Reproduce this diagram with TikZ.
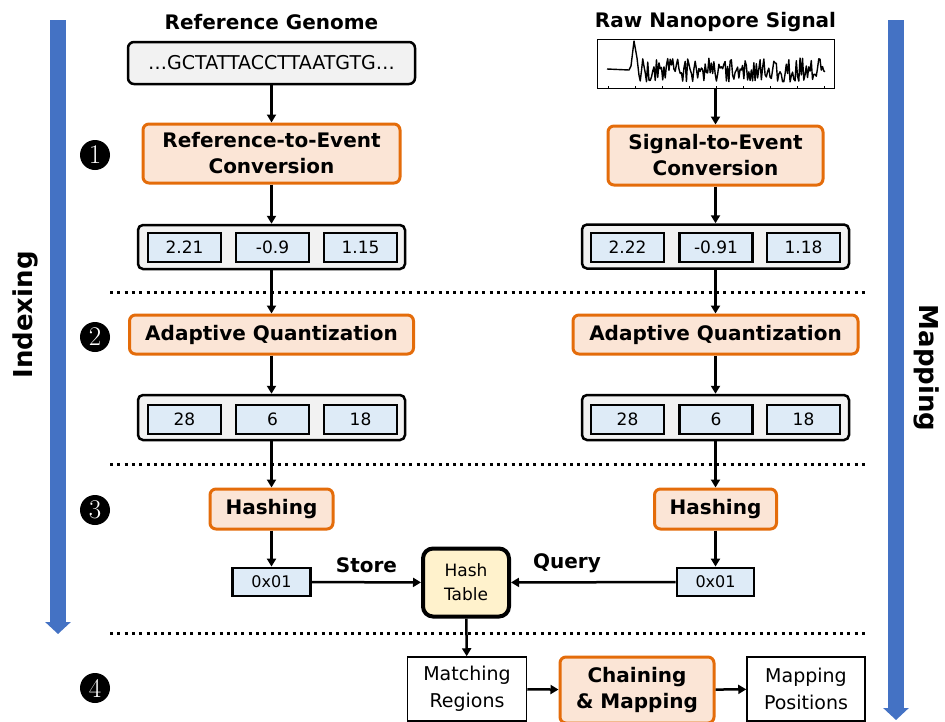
\documentclass[tikz,border=0pt]{standalone}
\usepackage{fontspec}
\usepackage{tikz}
\usetikzlibrary{arrows.meta}
\newfontfamily\labelfont{DejaVu Sans}

\definecolor{stageorange}{HTML}{E46C0A}
\definecolor{stagefill}{HTML}{FBE5D6}
\definecolor{flowblue}{HTML}{4472C4}
\definecolor{seqgray}{HTML}{F2F2F2}
\definecolor{valblue}{HTML}{DEEBF7}
\definecolor{tabyellow}{HTML}{FFF2CC}

\tikzset{
  stage/.style={draw=stageorange, fill=stagefill, line width=3pt, rounded corners=6pt, align=center, inner sep=0pt, font=\labelfont\bfseries\fontsize{20}{26}\selectfont},
  vector/.style={draw, fill=seqgray, line width=2.5pt, rounded corners=5pt, minimum width=267pt, minimum height=44pt},
  cell/.style={draw, fill=valblue, line width=2.8pt, minimum width=73pt, minimum height=29pt, inner sep=0pt, font=\labelfont\fontsize{17}{20}\selectfont},
  plain/.style={draw, fill=white, line width=1.5pt, align=center, inner sep=0pt, font=\labelfont\fontsize{19}{27}\selectfont},
  title/.style={font=\labelfont\bfseries\fontsize{20}{24}\selectfont},
  marker/.style={circle, fill=black, text=white, minimum size=30pt, inner sep=0pt, font=\fontsize{27}{27}\selectfont},
  flow/.style={line width=2.5pt, -{Triangle[length=8pt,width=9pt]}},
  progress/.style={flowblue, line width=16pt, -{Triangle[length=12pt,width=25pt]}},
  sep/.style={line width=3pt, dash pattern=on 3pt off 4.3pt},
  phase/.style={font=\labelfont\bfseries\fontsize{26}{30}\selectfont}
}

\begin{document}
\begin{tikzpicture}[x=1pt, y=-1pt]
\useasboundingbox (0,0) rectangle (945,721);

% phase arrows
\coordinate (itop) at (58,20);
\coordinate (ibot) at (58,634);
\coordinate (mtop) at (896,20);
\coordinate (mbot) at (896,720);
\draw[progress] (itop) -- (ibot);
\draw[progress] (mtop) -- (mbot);
\node[phase, rotate=90] (idx) at (25,315) {Indexing};
\node[phase, rotate=-90] (mapl) at (927,368) {Mapping};

% step markers
\node[marker] (m1) at (95,155) {1};
\node[marker] (m2) at (95,337) {2};
\node[marker] (m3) at (95,510) {3};
\node[marker] (m4) at (95,688) {4};

% separators
\draw[sep] (110,292) -- (867,292);
\draw[sep] (110,464) -- (867,464);
\draw[sep] (110,633) -- (867,633);

% indexing side
\node[title] (rgt) at (271.5,22) {Reference Genome};
\node[draw, fill=seqgray, line width=2.5pt, rounded corners=6pt, minimum width=287pt, minimum height=42pt, font=\labelfont\fontsize{19}{22}\selectfont] (seq) at (271.5,63) {…GCTATTACCTTAATGTG…};
\node[stage, minimum width=257pt, minimum height=59pt] (rconv) at (271.5,153.5) {Reference-to-Event\\Conversion};
\node[vector] (rev) at (271.5,247) {};
\node[cell] (rev1) at (184.5,247.5) {2.21};
\node[cell] (rev2) at (272.5,247.5) {-0.9};
\node[cell] (rev3) at (360.5,247.5) {1.15};
\node[stage, minimum width=284pt, minimum height=39pt] (raq) at (271.5,334.5) {Adaptive Quantization};
\node[vector, minimum height=45pt] (rq) at (271.5,417.5) {};
\node[cell] (rq1) at (184.5,419.5) {28};
\node[cell] (rq2) at (272.5,419.5) {6};
\node[cell] (rq3) at (360.5,419.5) {18};
\node[stage, minimum width=123pt, minimum height=40pt] (rhash) at (271.5,509) {Hashing};
\node[cell, minimum width=78pt, minimum height=28pt, font=\labelfont\fontsize{16}{18}\selectfont] (rkey) at (271.5,582) {0x01};

% mapping side
\node[title] (rst) at (715.5,22) {Raw Nanopore Signal};
\node[draw, fill=white, line width=1pt, minimum width=237pt, minimum height=49pt] (sig) at (715.5,63.5) {};
\foreach \t in {0,...,8}
  \draw[line width=0.6pt] (608+27*\t,88) -- ++(0,-2);
\pgfmathsetseed{12}
\draw[line width=1.4pt, line join=round] (607,69) -- (629,70) -- (631,66) -- (634,41) -- (637,58) -- plot[domain=639:825, samples=150] (\x,{70+12*rand});
\node[stage, minimum width=215pt, minimum height=59pt] (sconv) at (715.5,155.5) {Signal-to-Event\\Conversion};
\node[vector] (sev) at (715.5,246.5) {};
\node[cell] (sev1) at (627.5,247.5) {2.22};
\node[cell] (sev2) at (716,247.5) {-0.91};
\node[cell] (sev3) at (803.5,247.5) {1.18};
\node[stage, minimum width=285pt, minimum height=39pt] (saq) at (715.5,334.5) {Adaptive Quantization};
\node[vector, minimum height=45pt] (sq) at (715.5,417.5) {};
\node[cell] (sq1) at (627.5,419.5) {28};
\node[cell] (sq2) at (716,419.5) {6};
\node[cell] (sq3) at (803.5,419.5) {18};
\node[stage, minimum width=122pt, minimum height=40pt] (shash) at (715.5,509) {Hashing};
\node[cell, minimum width=77pt, minimum height=28pt, font=\labelfont\fontsize{16}{18}\selectfont] (skey) at (715.5,582) {0x01};

% hash table and final step
\node[draw, fill=tabyellow, line width=4pt, rounded corners=10pt, minimum width=86pt, minimum height=68pt, align=center, inner sep=0pt, font=\labelfont\fontsize{17}{24}\selectfont] (htab) at (466,582.5) {Hash\\Table};
\node[plain, minimum width=119pt, minimum height=64pt] (match) at (467,689) {Matching\\Regions};
\node[stage, minimum width=154pt, minimum height=66pt] (chain) at (637,690) {Chaining\\\& Mapping};
\node[plain, minimum width=118pt, minimum height=64pt] (mpos) at (806,689) {Mapping\\Positions};

\draw[flow] (seq) -- (rconv);
\draw[flow] (rconv) -- (rev);
\draw[flow] (rev) -- (raq);
\draw[flow] (raq) -- (rq);
\draw[flow] (rq) -- (rhash);
\draw[flow] (rhash) -- (rkey);
\draw[flow] (sig) -- (sconv);
\draw[flow] (sconv) -- (sev);
\draw[flow] (sev) -- (saq);
\draw[flow] (saq) -- (sq);
\draw[flow] (sq) -- (shash);
\draw[flow] (shash) -- (skey);
\draw[flow] (rkey) -- node[title, above=5pt] {Store} (htab);
\draw[flow] (skey) -- node[title, above=5pt, pos=0.66] {Query} (htab);
\draw[flow] (htab) -- (match);
\draw[flow] (match) -- (chain);
\draw[flow] (chain) -- (mpos);
\end{tikzpicture}
\end{document}
